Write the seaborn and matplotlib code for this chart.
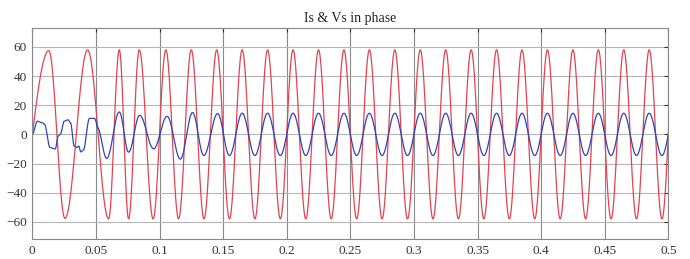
import numpy as np
import pandas as pd
import matplotlib
matplotlib.use('Agg')
import matplotlib.pyplot as plt
import seaborn as sns

# extrema of the red trace (Vs)
red_t = [-0.013, 0.013, 0.0257, 0.0435, 0.060, 0.0684, 0.0757, 0.0841,
         0.095, 0.105, 0.115, 0.125, 0.135, 0.145, 0.155, 0.165, 0.175, 0.185,
         0.195, 0.205, 0.215, 0.225, 0.235, 0.245, 0.255, 0.265, 0.275, 0.285,
         0.295, 0.305, 0.315, 0.325, 0.335, 0.345, 0.355, 0.365, 0.375, 0.385,
         0.395, 0.405, 0.415, 0.425, 0.435, 0.445, 0.455, 0.465, 0.475, 0.485,
         0.495, 0.505]
red_v = [-58, 57.5, -57.7, 58, -58, 58, -58, 58,
         -58, 58, -58, 58, -58, 58, -58, 58, -58, 58,
         -58, 58, -58, 58, -58, 58, -58, 58, -58, 58,
         -58, 58, -58, 58, -58, 58, -58, 58, -58, 58,
         -58, 58, -58, 58, -58, 58, -58, 58, -58, 58,
         -58, 58]

# key points of the blue trace (Is)
blue_t = [0.000, 0.004, 0.008, 0.0095, 0.014, 0.018, 0.0205, 0.022, 0.025, 0.028,
          0.030, 0.033, 0.035, 0.0365, 0.038, 0.040, 0.045, 0.049, 0.050, 0.051,
          0.0585, 0.0684, 0.0757, 0.0844, 0.0954, 0.106, 0.1164, 0.126, 0.1348, 0.1457,
          0.155, 0.165, 0.175, 0.185, 0.195, 0.205, 0.215, 0.225, 0.235, 0.245,
          0.255, 0.265, 0.275, 0.285, 0.295, 0.305, 0.315, 0.325, 0.335, 0.345,
          0.355, 0.365, 0.375, 0.385, 0.395, 0.405, 0.415, 0.425, 0.435, 0.445,
          0.455, 0.465, 0.475, 0.485, 0.495, 0.505]
blue_v = [0, 9, 8, 7, -9, -10, -1, 0, 9, 10,
          8, -8, -9, -8, -12, -11, 11, 11, 9, 5,
          -16.5, 15.4, -12.2, 13.1, -9.9, 12.4, -17, 15, -14.5, 14.3,
          -14.5, 14.5, -14.5, 14.5, -14.5, 14.5, -14.5, 14.5, -14.5, 14.5,
          -14.5, 14.5, -14.5, 14.5, -14.5, 14.5, -14.5, 14.5, -14.5, 14.5,
          -14.5, 14.5, -14.5, 14.5, -14.5, 14.5, -14.5, 14.5, -14.5, 14.5,
          -14.5, 14.5, -14.5, 14.5, -14.5, 14.5]

xticks = [0, 0.05, 0.1, 0.15, 0.2, 0.25, 0.3, 0.35, 0.4, 0.45, 0.5]
xlabels = ['0', '0.05', '0.1', '0.15', '0.2', '0.25', '0.3', '0.35', '0.4', '0.45', '0.5']
yticks = [-60, -40, -20, 0, 20, 40, 60]


def trace(keys_t, keys_v, n=30):
    # smooth half-cosine between neighbouring key points
    ts, vs = [], []
    for i in range(len(keys_t) - 1):
        s = np.linspace(0, 1, n, endpoint=False)
        w = (1 - np.cos(np.pi * s)) / 2
        ts.append(keys_t[i] + (keys_t[i + 1] - keys_t[i]) * s)
        vs.append(keys_v[i] + (keys_v[i + 1] - keys_v[i]) * w)
    ts.append([keys_t[-1]])
    vs.append([keys_v[-1]])
    return pd.DataFrame({'t': np.concatenate(ts), 'v': np.concatenate(vs)})


red = trace(red_t, red_v)
blue = trace(blue_t, blue_v)

sns.set_style('white')
plt.rcParams['font.family'] = ['Liberation Serif', 'DejaVu Serif']

fig = plt.figure(figsize=(6.9, 2.59), dpi=100)
ax = fig.add_axes([32.3 / 690, 1 - 239.3 / 259, (668.3 - 32.3) / 690, (239.3 - 28) / 259])

for x in xticks:
    ax.axvline(x, color='#8a8a8a', lw=0.8, zorder=0)
for y in yticks:
    ax.axhline(y, color='#b5b5b5', lw=0.8, zorder=0)

sns.lineplot(data=red, x='t', y='v', color='#e2434f', lw=0.9, sort=False, estimator=None, ax=ax)
sns.lineplot(data=blue, x='t', y='v', color='#2f45b8', lw=0.9, sort=False, estimator=None, ax=ax)

ax.set_xlim(0, 0.5)
ax.set_ylim(-72, 73)
ax.set_xticks(xticks)
ax.set_xticklabels(xlabels)
ax.set_yticks(yticks)
ax.set_xlabel('')
ax.set_ylabel('')
ax.tick_params(direction='in', length=3, labelsize=9.5, colors='#333333',
               top=True, right=True, pad=4)
for sp in ax.spines.values():
    sp.set_color('#888888')
    sp.set_linewidth(0.8)
ax.set_title('Is & Vs in phase', fontsize=10, pad=4, color='#222222')

fig.savefig('out.png', dpi=100)
